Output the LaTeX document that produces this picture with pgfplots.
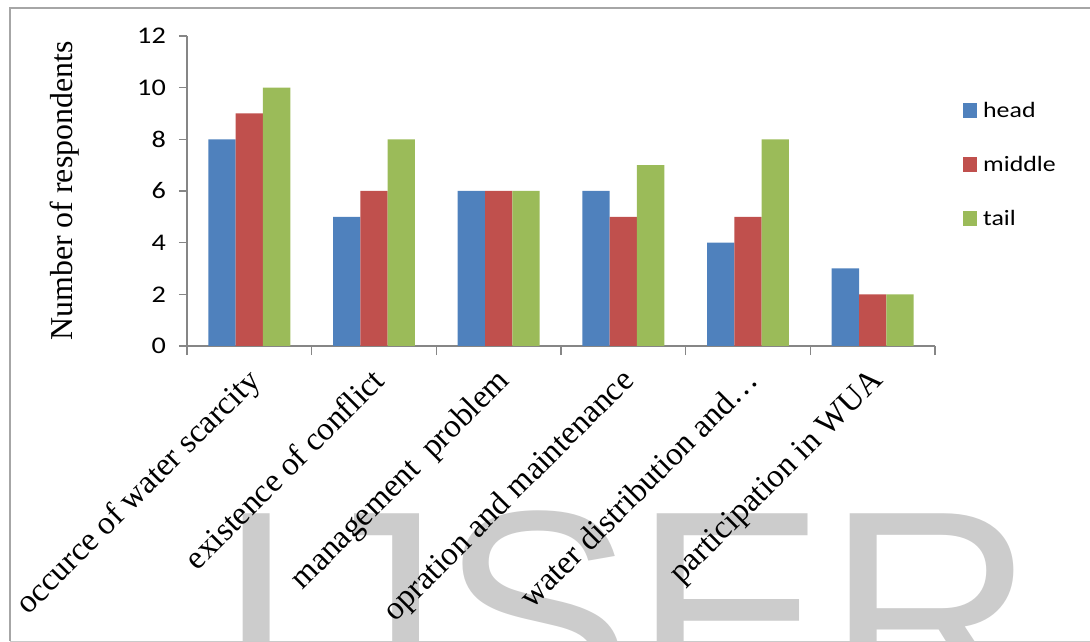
\documentclass[border=0pt]{standalone}
\usepackage{pgfplots}
\pgfplotsset{compat=1.18}
\usepackage{fontspec}
\setmainfont{Liberation Serif}
\newfontfamily\calib[FakeStretch=1.18]{Carlito}
\newfontfamily\wmfont{Liberation Sans}
\definecolor{headc}{HTML}{4F81BD}
\definecolor{middlec}{HTML}{C0504D}
\definecolor{tailc}{HTML}{9BBB59}
\definecolor{axisc}{HTML}{868686}
\definecolor{framec}{HTML}{A6A6A6}
\definecolor{wmc}{HTML}{CCCCCC}
\begin{document}
\begin{tikzpicture}
\path[use as bounding box, clip] (0bp,0bp) rectangle (1090bp,642bp);
% watermark behind the chart
\node[anchor=base west, inner sep=0pt, text=wmc,
      font=\wmfont\fontsize{290}{290}\selectfont] at (216bp,-70bp) {IJSER};
\draw[framec, line width=2bp] (10bp,1bp) -- (10bp,634bp) -- (1100bp,634bp);
\draw[framec!60, line width=1bp] (10bp,1bp) -- (1100bp,1bp);
\begin{axis}[
    at={(187bp,296bp)}, anchor=south west,
    scale only axis, width=748bp, height=310bp,
    ybar=0pt, bar width=0.219,
    xmin=-0.5, xmax=5.5, ymin=0, ymax=12,
    axis x line=bottom, axis y line=left,
    axis line style={axisc, line width=1.5bp, -},
    xtick={0,1,2,3,4,5},
    xticklabels={occurce of water scarcity, existence of conflict,
        management\ \ problem, opration and maintenance,
        water distribution and\ldots, participation in WUA},
    minor xtick={-0.5,0.5,1.5,2.5,3.5,4.5,5.5},
    major x tick style={draw=none},
    minor tick length=9bp,
    ytick={0,2,...,12},
    major tick length=8bp,
    tick align=outside,
    tick style={axisc, line width=1.5bp},
    /pgf/number format/assume math mode=true,
    yticklabel style={font=\calib\fontsize{24}{28}\selectfont,
        anchor=east, inner sep=0pt, xshift=-13bp},
    xticklabel style={font=\fontsize{33}{37}\selectfont,
        inner sep=0pt, xshift=-4bp, yshift=-12bp, rotate=45, anchor=north east},
    ylabel={Number of respondents},
    every axis y label/.style={at={(axis description cs:-0.163,0.5)},
        rotate=90, anchor=center, font=\fontsize{32}{36}\selectfont},
    legend style={draw=none, fill=none, inner sep=0pt,
        at={(axis description cs:1.0374,0.7935)}, anchor=north west,
        font=\calib\fontsize{22}{26}\selectfont,
        row sep=33.5bp, column sep=4bp},
    legend cell align=left,
    legend image code/.code={\fill[#1] (0bp,-7.5bp) rectangle (14bp,7.5bp);},
]
\addplot[fill=headc, draw=none] coordinates {(0,8) (1,5) (2,6) (3,6) (4,4) (5,3)};
\addplot[fill=middlec, draw=none] coordinates {(0,9) (1,6) (2,6) (3,5) (4,5) (5,2)};
\addplot[fill=tailc, draw=none] coordinates {(0,10) (1,8) (2,6) (3,7) (4,8) (5,2)};
\legend{head, middle, tail}
\end{axis}
\end{tikzpicture}
\end{document}
